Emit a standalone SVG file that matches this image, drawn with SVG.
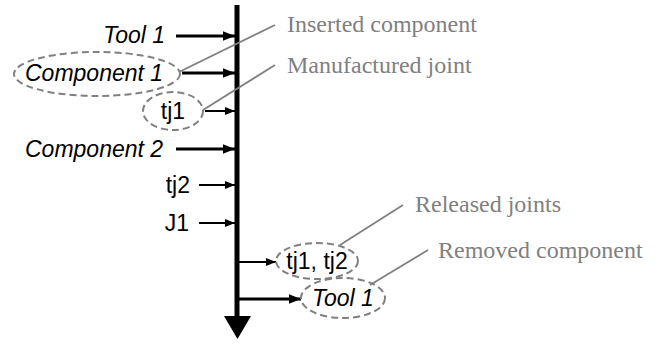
<svg xmlns="http://www.w3.org/2000/svg" width="667" height="345" viewBox="0 0 667 345">
<defs>
<marker id="ah" viewBox="0 0 10 8" refX="10" refY="4" markerWidth="12" markerHeight="10" markerUnits="userSpaceOnUse" orient="auto"><path d="M0,0 L10,4 L0,8 z" fill="#000"/></marker>
<marker id="ahs" viewBox="0 0 10 8" refX="10" refY="4" markerWidth="10" markerHeight="8" markerUnits="userSpaceOnUse" orient="auto"><path d="M0,0 L10,4 L0,8 z" fill="#000"/></marker>
</defs>
<style>
.lab{font-family:"Liberation Sans",Arial,sans-serif;font-size:23px;fill:#000}
.it{font-style:italic}
.note{font-family:"Liberation Serif","Times New Roman",serif;font-size:24px;fill:#808080}
.thick{stroke:#000;stroke-width:3;fill:none}
.thin{stroke:#000;stroke-width:2;fill:none}
.ell{fill:none;stroke:#808080;stroke-width:2;stroke-dasharray:7,4}
.lead{stroke:#808080;stroke-width:1.8;fill:none}
</style>
<g id="connectors">
<line x1="237" y1="5" x2="237" y2="318" stroke="#000" stroke-width="5"/>
<path d="M224,316 L251,316 L237.5,339 z" fill="#000"/>
<line class="thick" x1="176" y1="36" x2="235" y2="36" marker-end="url(#ah)"/>
<line class="thick" x1="182" y1="73" x2="235" y2="73" marker-end="url(#ah)"/>
<line class="thin" x1="205" y1="111" x2="235" y2="111" marker-end="url(#ahs)"/>
<line class="thick" x1="176" y1="149" x2="235" y2="149" marker-end="url(#ah)"/>
<line class="thin" x1="199" y1="185" x2="235" y2="185" marker-end="url(#ahs)"/>
<line class="thin" x1="199" y1="223" x2="235" y2="223" marker-end="url(#ahs)"/>
<line class="thin" x1="237" y1="262" x2="276" y2="262" marker-end="url(#ahs)"/>
<line class="thick" x1="237" y1="299" x2="301" y2="299" marker-end="url(#ah)"/>
<line class="lead" x1="179" y1="72" x2="275" y2="25"/>
<line class="lead" x1="203" y1="110" x2="275" y2="65"/>
<line class="lead" x1="340" y1="245" x2="403" y2="205"/>
<line class="lead" x1="370" y1="285" x2="428" y2="250"/>
</g>
<g id="tool1-in"><text class="lab it" x="165" y="43" text-anchor="end">Tool 1</text></g>
<g id="component1"><ellipse class="ell" cx="97" cy="74" rx="83" ry="22"/><text class="lab it" x="25" y="81">Component 1</text></g>
<g id="tj1"><ellipse class="ell" cx="173" cy="111" rx="30" ry="19"/><text class="lab" x="173" y="119" text-anchor="middle">tj1</text></g>
<g id="component2"><text class="lab it" x="25" y="157">Component 2</text></g>
<g id="tj2"><text class="lab" x="190" y="193" text-anchor="end">tj2</text></g>
<g id="j1"><text class="lab" x="189" y="231" text-anchor="end">J1</text></g>
<g id="released"><ellipse class="ell" cx="317" cy="261" rx="41" ry="18"/><text class="lab" x="317" y="269" text-anchor="middle">tj1, tj2</text></g>
<g id="tool1-out"><ellipse class="ell" cx="343" cy="298" rx="42" ry="20"/><text class="lab it" x="343" y="306" text-anchor="middle">Tool 1</text></g>
<g id="notes">
<text class="note" x="287" y="32">Inserted component</text>
<text class="note" x="287" y="73">Manufactured joint</text>
<text class="note" x="415" y="212">Released joints</text>
<text class="note" x="438" y="258">Removed component</text>
</g>
</svg>
